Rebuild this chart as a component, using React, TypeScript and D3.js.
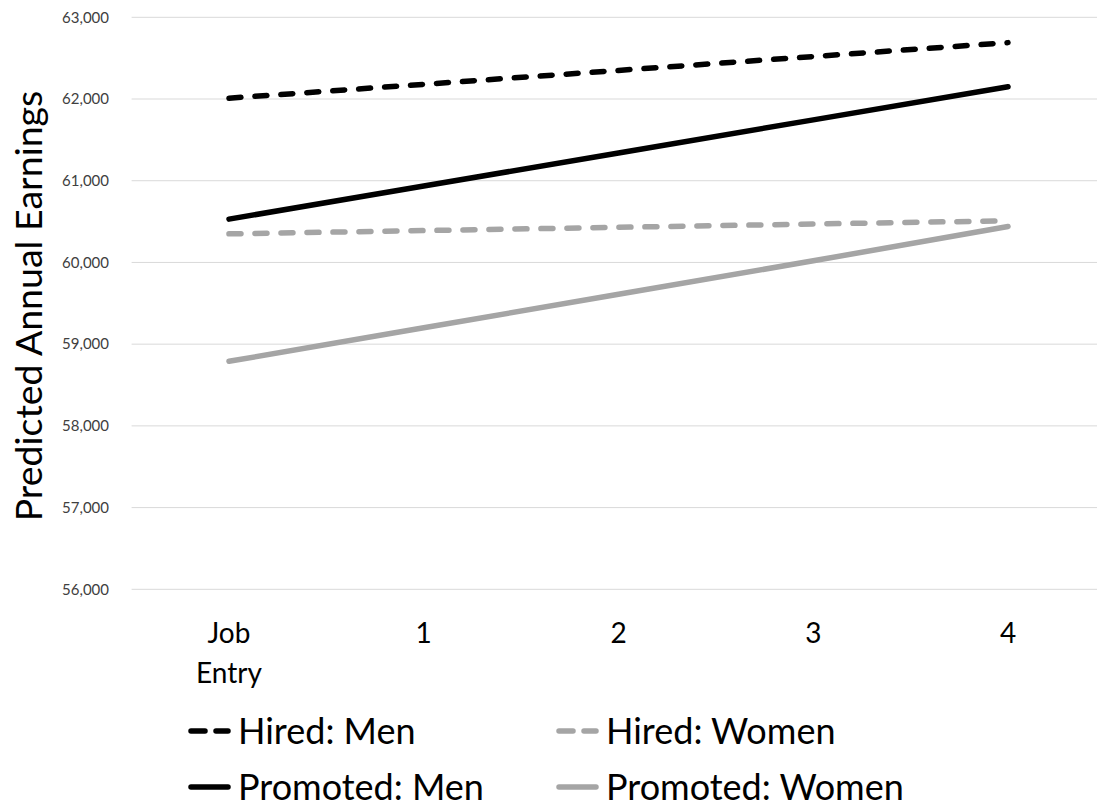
import React from "react";
import * as d3 from "d3";

const categories = ["Job Entry", "1", "2", "3", "4"];
const hiredMen = [62010, 62180, 62350, 62520, 62690];
const promotedMen = [60530, 60935, 61340, 61745, 62150];
const hiredWomen = [60350, 60390, 60430, 60470, 60510];
const promotedWomen = [58790, 59200, 59610, 60020, 60440];
const yTicks = [56000, 57000, 58000, 59000, 60000, 61000, 62000, 63000];

const W = 1097;
const H = 808;
const BLACK = "#000000";
const GRAY = "#A5A5A5";
const FONT = "Lato, 'Open Sans', sans-serif";
const DASH = "12 14";

const series = [
  { name: "Hired: Men", values: hiredMen, color: BLACK, dashed: true },
  { name: "Hired: Women", values: hiredWomen, color: GRAY, dashed: true },
  { name: "Promoted: Men", values: promotedMen, color: BLACK, dashed: false },
  { name: "Promoted: Women", values: promotedWomen, color: GRAY, dashed: false },
];

export default function App() {
  const x = d3.scalePoint<string>().domain(categories).range([131.6, 1105.4]).padding(0.5);
  const y = d3.scaleLinear().domain([56000, 63000]).range([589.3, 17.3]);
  const fmt = d3.format(",");

  const line = d3
    .line<number>()
    .x((_, i) => x(categories[i]) as number)
    .y((d) => y(d));

  // legend layout: two columns, two rows
  const legendCols = [188, 556];
  const legendRows = [731, 787];

  return (
    <svg
      width={W}
      height={H}
      style={{ position: "absolute", left: 0, top: 0, background: "#fff" }}
      fontFamily={FONT}
    >
      <rect x={0} y={0} width={W} height={H} fill="#fff" />
      {/* horizontal gridlines */}
      {yTicks.map((t) => (
        <line
          key={"g" + t}
          x1={131.6}
          x2={1105.4}
          y1={y(t)}
          y2={y(t)}
          stroke="#D9D9D9"
          strokeWidth={1}
        />
      ))}
      {/* y tick labels */}
      {yTicks.map((t) => (
        <text
          key={"t" + t}
          x={109}
          y={y(t)}
          dy="0.35em"
          textAnchor="end"
          fontSize={15}
          fill="#404040"
        >
          {fmt(t)}
        </text>
      ))}
      {/* y axis title */}
      <text
        transform={`translate(42,306) rotate(-90)`}
        textAnchor="middle"
        fontSize={37.5}
        fill="#000"
      >
        Predicted Annual Earnings
      </text>
      {/* x tick labels */}
      {categories.map((c) => {
        const parts = c.split(" ");
        return (
          <text key={"x" + c} x={x(c)} y={643} textAnchor="middle" fontSize={28} fill="#000">
            {parts.map((p, i) => (
              <tspan key={i} x={x(c)} dy={i === 0 ? 0 : 40}>
                {p}
              </tspan>
            ))}
          </text>
        );
      })}
      {/* series lines */}
      {series.map((s) => (
        <path
          key={s.name}
          d={line(s.values) || ""}
          fill="none"
          stroke={s.color}
          strokeWidth={5.5}
          strokeLinecap="round"
          strokeLinejoin="round"
          strokeDasharray={s.dashed ? DASH : undefined}
        />
      ))}
      {/* legend */}
      {series.map((s, i) => {
        const lx = legendCols[i % 2];
        const ly = legendRows[Math.floor(i / 2)];
        return (
          <g key={"l" + s.name}>
            <line
              x1={lx + 3}
              x2={lx + 40}
              y1={ly}
              y2={ly}
              stroke={s.color}
              strokeWidth={5.5}
              strokeLinecap="round"
              strokeDasharray={s.dashed ? "14 11" : undefined}
            />
            <text x={lx + 50} y={ly + 12.5} fontSize={36} fill="#000">
              {s.name}
            </text>
          </g>
        );
      })}
    </svg>
  );
}
